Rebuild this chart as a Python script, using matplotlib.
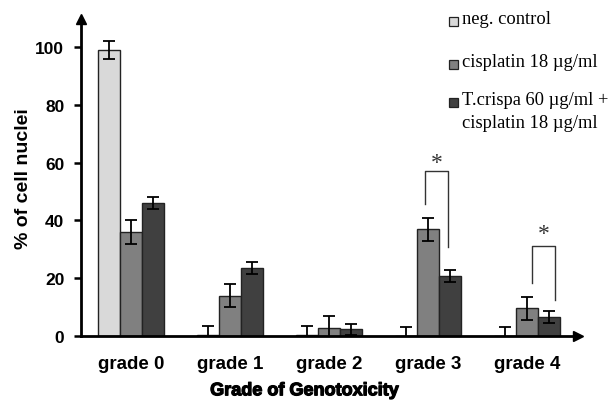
import matplotlib
matplotlib.use("Agg")
import matplotlib.pyplot as plt
import numpy as np
from matplotlib.patches import Rectangle
import matplotlib.patheffects as pe

categories = ["grade 0", "grade 1", "grade 2", "grade 3", "grade 4"]
series_names = ["neg. control", "cisplatin 18 \u00b5g/ml", "T.crispa 60 \u00b5g/ml +\ncisplatin 18 \u00b5g/ml"]
neg_control = [99, 0.5, 0.3, 0, 0]
neg_err = [3, 3, 3, 3, 3]
cisplatin = [36, 14, 2.8, 37, 9.6]
cis_err = [4, 4, 4, 4, 4]
crispa = [46, 23.5, 2.3, 20.7, 6.5]
cri_err = [2, 2, 2, 2, 2]
colors = ["#d9d9d9", "#808080", "#404040"]
yticks = [0, 20, 40, 60, 80, 100]

# significance brackets: (x_left, x_right, y_left_bottom, y_right_bottom, y_top, star_y)
brackets = [
    (2.973, 3.205, 45.7, 30.9, 57.0, 60.0),
    (4.054, 4.286, 18.2, 12.4, 31.2, 35.5),
]

W, H = 616, 402
fig = plt.figure(figsize=(W / 100, H / 100), dpi=100)
ax = fig.add_axes([81 / W, 65 / H, 497 / W, 317 / H])

x = np.arange(len(categories))
bw = 0.222
data = [neg_control, cisplatin, crispa]
errs = [neg_err, cis_err, cri_err]
for i, (vals, er, c) in enumerate(zip(data, errs, colors)):
    pos = x + (i - 1) * bw
    ax.bar(pos, vals, width=bw, color=c, edgecolor="#222222", linewidth=1.0, zorder=2)
    ax.errorbar(pos, vals, yerr=er, fmt="none", ecolor="black", elinewidth=1.3,
                capsize=4, capthick=1.3, zorder=3)

for xl, xr, yl, yr, yt, ys in brackets:
    ax.plot([xl, xl, xr, xr], [yl, yt, yt, yr], color="#333333", lw=1.0, zorder=4)
    ax.text((xl + xr) / 2, ys, "*", ha="center", va="center", fontsize=17,
            family="Liberation Serif", color="#333333")

ax.set_xlim(-0.505, 4.515)
ax.set_ylim(0, 109.7)
ax.set_yticks(yticks)
ax.set_yticklabels([str(t) for t in yticks], fontsize=12.5, fontweight="bold",
                   family="Liberation Sans")
ax.set_xticks(x)
ax.set_xticklabels(categories, fontsize=13.5, fontweight="bold", family="Liberation Sans")
ax.tick_params(axis="x", length=0, pad=14)
ax.tick_params(axis="y", length=5, width=1.8, pad=7, direction="out")

for s in ["top", "right"]:
    ax.spines[s].set_visible(False)
for s in ["left", "bottom"]:
    ax.spines[s].set_linewidth(2)
ax.plot([0], [1], marker="^", color="black", markersize=7, transform=ax.transAxes, clip_on=False)
ax.plot([1], [0], marker=">", color="black", markersize=7, transform=ax.transAxes, clip_on=False)

ax.set_ylabel("% of cell nuclei", fontsize=14, fontweight="bold", family="Liberation Sans")
ax.yaxis.set_label_coords(-0.098, 0.5)
xl = ax.set_xlabel("Grade of Genotoxicity", fontsize=13, fontweight="bold",
                   family="Liberation Sans")
xl.set_path_effects([pe.withStroke(linewidth=0.9, foreground="black")])
ax.xaxis.set_label_coords(0.449, -0.146)

# legend drawn manually
leg_y = [22, 65, 103]
for name, c, yy in zip(series_names, colors, leg_y):
    fig.patches.append(Rectangle(((449) / W, 1 - (yy + 4.5) / H), 9 / W, 9 / H,
                                 transform=fig.transFigure, facecolor=c,
                                 edgecolor="#222222", linewidth=0.9))
    fig.text(462 / W, 1 - (yy - 11) / H, name, ha="left", va="top", fontsize=13.3,
             family="Liberation Serif", linespacing=1.45)

fig.savefig("out.png", dpi=100)
